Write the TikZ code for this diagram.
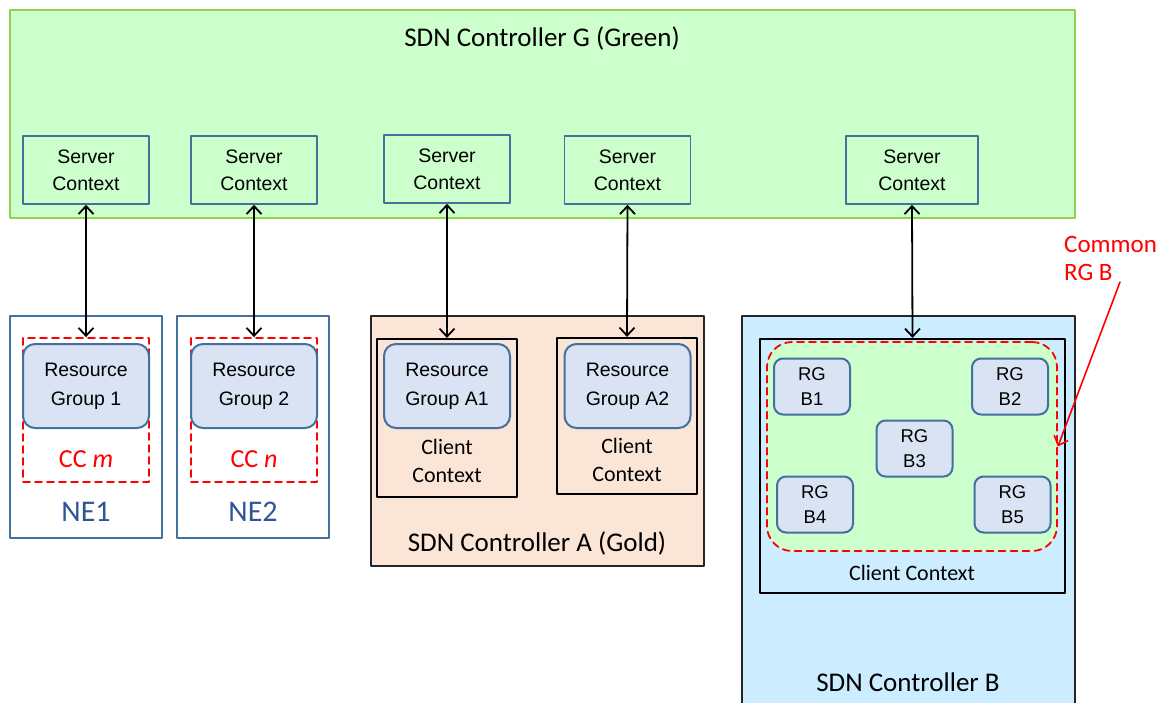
\documentclass[tikz,border=0pt]{standalone}
\usepackage{fontspec}
\setmainfont{Carlito}
\newfontfamily\arialfont{Liberation Sans}
\usetikzlibrary{arrows.meta}
\usetikzlibrary{positioning}

\definecolor{greenfill}{RGB}{204,255,204}
\definecolor{greenline}{RGB}{146,208,80}
\definecolor{boxblue}{RGB}{65,113,156}
\definecolor{rgfill}{RGB}{218,227,243}
\definecolor{goldfill}{RGB}{251,229,214}
\definecolor{bluefill}{RGB}{204,236,255}
\definecolor{nelabel}{RGB}{47,85,151}

\tikzset{
  box/.style={rectangle,inner sep=0pt},
  server/.style={box,draw=boxblue,line width=1.6pt,fill=greenfill,minimum width=126,minimum height=68,align=center,font=\arialfont\fontsize{19.5}{27}\selectfont},
  rgroup/.style={box,draw=boxblue,line width=2pt,fill=rgfill,rounded corners=12pt,minimum width=126,minimum height=84,align=center,font=\arialfont\fontsize{19.5}{29}\selectfont},
  rgsmall/.style={box,draw=boxblue,line width=2pt,fill=rgfill,rounded corners=9pt,minimum width=76,minimum height=56,align=center,font=\arialfont\fontsize{18.5}{25}\selectfont},
  nebox/.style={box,draw=boxblue,line width=1.7pt,minimum width=152,minimum height=222},
  ccbox/.style={box,draw=red,dashed,dash pattern=on 7pt off 5pt,line width=1.8pt,minimum width=126,minimum height=144},
  clientbox/.style={box,draw=black,line width=2.2pt,minimum width=140},
  ctrlbox/.style={box,draw=black!85,line width=1.7pt},
  link/.style={<->,line width=1.8pt,>={Straight Barb[length=8pt,width=15pt]}},
  txt/.style={align=center,inner sep=0pt}
}

\begin{document}
\begin{tikzpicture}[line cap=round,line join=round,x=1pt,y=-1pt]
\clip(0,0) rectangle (1168,702);

% green controller and its server contexts
\node[box,draw=greenline,line width=2.5pt,fill=greenfill,minimum width=1065,minimum height=208] (green) at (542.5,114) {};
\node[txt,font=\fontsize{27}{30}\selectfont] (greentitle) at (542,38) {SDN Controller G (Green)};
\node[server] (sc1) at (86,170) {Server\\Context};
\node[server] (sc2) at (254,170) {Server\\Context};
\node[server] (sc3) at (447,169) {Server\\Context};
\node[server] (sc4) at (627.5,170) {Server\\Context};
\node[server,minimum width=132] (sc5) at (912,170) {Server\\Context};

% network elements
\node[nebox] (ne1) at (86,427) {};
\node[ccbox] (ccm) at (86,410) {};
\node[rgroup] (rg1) at (86,386) {Resource\\Group 1};
\node[txt,text=red,font=\fontsize{26}{30}\selectfont] (ccmlabel) at (86,459) {CC \textit{m}};
\node[txt,text=nelabel,font=\fontsize{30}{34}\selectfont] (ne1label) at (86,512) {NE1};

\node[nebox] (ne2) at (253,427) {};
\node[ccbox] (ccn) at (254,410) {};
\node[rgroup] (rg2) at (254,386) {Resource\\Group 2};
\node[txt,text=red,font=\fontsize{26}{30}\selectfont] (ccnlabel) at (254,459) {CC \textit{n}};
\node[txt,text=nelabel,font=\fontsize{30}{34}\selectfont] (ne2label) at (253,512) {NE2};

% controller A
\node[ctrlbox,fill=goldfill,minimum width=333,minimum height=250] (ctrla) at (537.5,441) {};
\node[clientbox,minimum height=158] (cla1) at (447,418) {};
\node[rgroup] (rga1) at (447,386) {Resource\\Group A1};
\node[txt,font=\fontsize{22}{28}\selectfont] (cla1label) at (447,461) {Client\\Context};
\node[clientbox,minimum height=156] (cla2) at (627,416) {};
\node[rgroup] (rga2) at (627.5,386) {Resource\\Group A2};
\node[txt,font=\fontsize{22}{28}\selectfont] (cla2label) at (627,460) {Client\\Context};
\node[txt,font=\fontsize{27}{30}\selectfont] (ctrlalabel) at (537,543) {SDN Controller A (Gold)};

% controller B
\node[ctrlbox,fill=bluefill,minimum width=333,minimum height=400] (ctrlb) at (908.5,516) {};
\node[clientbox,minimum width=305,minimum height=254] (clb) at (912.5,466) {};
\node[box,draw=red,fill=greenfill,dashed,dash pattern=on 7pt off 5pt,line width=1.8pt,rounded corners=25pt,minimum width=290,minimum height=209] (commonb) at (912,446.5) {};
\node[rgsmall] (rgb1) at (812,386.5) {RG\\B1};
\node[rgsmall] (rgb2) at (1010,386.5) {RG\\B2};
\node[rgsmall] (rgb3) at (914.5,448.5) {RG\\B3};
\node[rgsmall] (rgb4) at (815,504.5) {RG\\B4};
\node[rgsmall] (rgb5) at (1012.5,504.5) {RG\\B5};
\node[txt,font=\fontsize{22}{26}\selectfont] (clblabel) at (912,573) {Client Context};
\node[txt,font=\fontsize{27}{30}\selectfont] (ctrlblabel) at (908,682) {SDN Controller B};

% common RG B callout
\node[txt,align=left,anchor=west,text=red,font=\fontsize{25}{28}\selectfont] (commonlabel) at (1064,258) {Common\\RG B};
\coordinate (callout) at (1120,282);
\draw[->,red,line width=1.6pt,>={Straight Barb[length=8pt,width=15pt]}] (callout) -- (commonb.east);

% links
\draw[link] (sc1.south) -- (ccm.north);
\draw[link] (sc2.south) -- (ccn.north);
\draw[link] (sc3.south) -- (cla1.north);
\draw[link] (sc4.south) -- (cla2.north);
\draw[link] (sc5.south) -- (clb.north);
\end{tikzpicture}
\end{document}
